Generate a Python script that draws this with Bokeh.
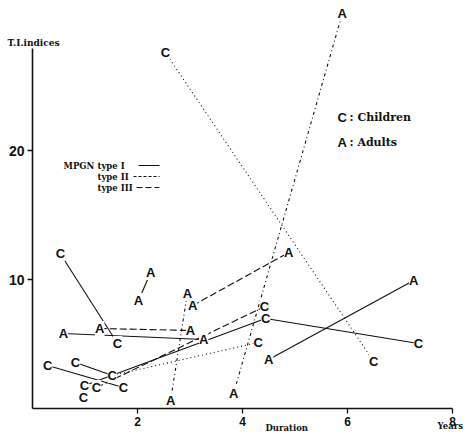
from bokeh.plotting import figure
from bokeh.models import Range1d, FixedTicker, Label, ColumnDataSource
from bokeh.core.properties import value
from bokeh.embed import file_html
from bokeh.resources import INLINE

# ---- data (Duration in years, T.I. indices) ----
children_x = [0.53, 1.62, 0.29, 1.73, 0.82, 1.52, 0.99, 1.22, 0.97, 4.44, 4.42, 4.30, 7.35, 6.50, 2.53]
children_y = [12.0, 5.04, 3.33, 1.63, 3.57, 2.56, 1.78, 1.63, 0.85, 6.98, 7.90, 5.12, 5.04, 3.64, 27.6]
adults_x = [0.59, 1.28, 3.01, 3.26, 2.25, 2.02, 2.95, 3.05, 2.63, 3.83, 4.88, 5.90, 4.50, 7.26]
adults_y = [5.81, 6.20, 6.05, 5.35, 10.54, 8.37, 8.91, 7.98, 0.62, 1.16, 12.09, 30.6, 3.80, 9.92]

# MPGN type I (solid)
type1_xs = [[0.53, 1.62], [0.29, 1.73], [0.82, 1.52], [0.99, 4.44, 7.35], [0.59, 3.26], [2.25, 2.02], [4.50, 7.26]]
type1_ys = [[12.0, 5.04], [3.33, 1.63], [3.57, 2.56], [1.78, 6.98, 5.04], [5.81, 5.35], [10.54, 8.37], [3.80, 9.92]]
# type II (dotted)
type2_xs = [[2.53, 6.50], [1.52, 4.30]]
type2_ys = [[27.6, 3.64], [2.56, 5.12]]
# type II (dash-dot traces)
type2b_xs = [[2.63, 2.95], [3.83, 5.90]]
type2b_ys = [[0.62, 8.91], [1.16, 30.6]]
# type III (dashed)
type3_xs = [[1.22, 4.42], [1.28, 3.01], [3.05, 4.88]]
type3_ys = [[1.63, 7.90], [6.20, 6.05], [7.98, 12.09]]

x_ticks = [2, 4, 6, 8]
y_ticks = [10, 20]
legend_labels = ["type I", "type II", "type III"]

INK = "#111111"
W, H = 464, 433
X0PX, Y0PX = 32, 408        # pixel position of the origin
XSCALE, YSCALE = 52.5, 12.9  # pixels per unit

p = figure(width=W, height=H, output_backend="svg", toolbar_location=None,
           x_range=Range1d(-X0PX / XSCALE, (W - X0PX) / XSCALE),
           y_range=Range1d(-(H - Y0PX) / YSCALE, Y0PX / YSCALE),
           min_border=0, min_border_left=0, min_border_right=0,
           min_border_top=0, min_border_bottom=0)
p.outline_line_color = None
p.grid.visible = False
p.background_fill_color = "white"
p.border_fill_color = "white"

for ax in (p.xaxis[0], p.yaxis[0]):
    ax.fixed_location = 0
    ax.axis_line_width = 1.6
    ax.axis_line_color = INK
    ax.major_tick_line_color = INK
    ax.major_tick_line_width = 1.3
    ax.minor_tick_line_color = None
    ax.major_label_text_font = "Liberation Sans"
    ax.major_label_text_font_style = "bold"
    ax.major_label_text_color = INK

p.xaxis.ticker = FixedTicker(ticks=x_ticks)
p.xaxis.bounds = (0, 8)
p.xaxis.major_tick_in = 0
p.xaxis.major_tick_out = 5
p.xaxis.major_label_standoff = 3
p.xaxis.major_label_text_font_size = "12px"

p.yaxis.ticker = FixedTicker(ticks=y_ticks)
p.yaxis.bounds = (0, 27.9)
p.yaxis.major_tick_in = 0
p.yaxis.major_tick_out = 5
p.yaxis.major_label_standoff = 3
p.yaxis.major_label_text_font_size = "14px"

# lines
p.multi_line(type1_xs, type1_ys, line_color=INK, line_width=1.1)
p.multi_line(type2_xs, type2_ys, line_color=INK, line_width=1.1, line_dash="1 3")
p.multi_line(type2b_xs, type2b_ys, line_color=INK, line_width=1.1, line_dash="3 3 1 3")
p.multi_line(type3_xs, type3_ys, line_color=INK, line_width=1.1, line_dash="7 3")

# letters
csrc = ColumnDataSource(dict(x=children_x, y=children_y, t=["C"] * len(children_x)))
asrc = ColumnDataSource(dict(x=adults_x, y=adults_y, t=["A"] * len(adults_x)))
for src in (csrc, asrc):
    p.text(x="x", y="y", text="t", source=src, text_align="center", text_baseline="middle",
           text_font=value("Liberation Sans"), text_font_style="bold", text_font_size="13px",
           text_color=INK, background_fill_color="white")

# layout helpers (image pixel -> data coordinates, for text placement only)
def dx(px):
    return (px - X0PX) / XSCALE

def dy(py):
    return (Y0PX - py) / YSCALE

serif = "DejaVu Serif"

def lab(txt, px, py, size, font=serif, align="left"):
    p.add_layout(Label(x=dx(px), y=dy(py), text=txt, text_font=font, text_font_style="bold",
                       text_font_size=size, text_color=INK, text_align=align,
                       text_baseline="middle"))

lab("T.I.indices", 7, 42, "9px")
lab("Duration", 265, 427, "8.5px")
lab("Years", 437, 425, "8.5px")

# legend of types
lab("MPGN", 63, 165, "8.5px")
for i, t in enumerate(legend_labels):
    lab(t, 97, 165 + i * 11, "8.5px")
leg_dash = ["solid", "3 2", "6 3"]
leg_x0 = [138, 133, 136]
for i, d in enumerate(leg_dash):
    py = 165 + i * 11
    p.segment(x0=[dx(leg_x0[i])], y0=[dy(py)], x1=[dx(159)], y1=[dy(py)],
              line_color=INK, line_width=1.1, line_dash=d)

# key
lab("C", 337, 117, "13px", font="Liberation Sans")
lab(": Children", 349, 117, "11px")
lab("A", 337, 142, "13px", font="Liberation Sans")
lab(": Adults", 349, 142, "11px")

open("out.html", "w").write(file_html(p, INLINE))
